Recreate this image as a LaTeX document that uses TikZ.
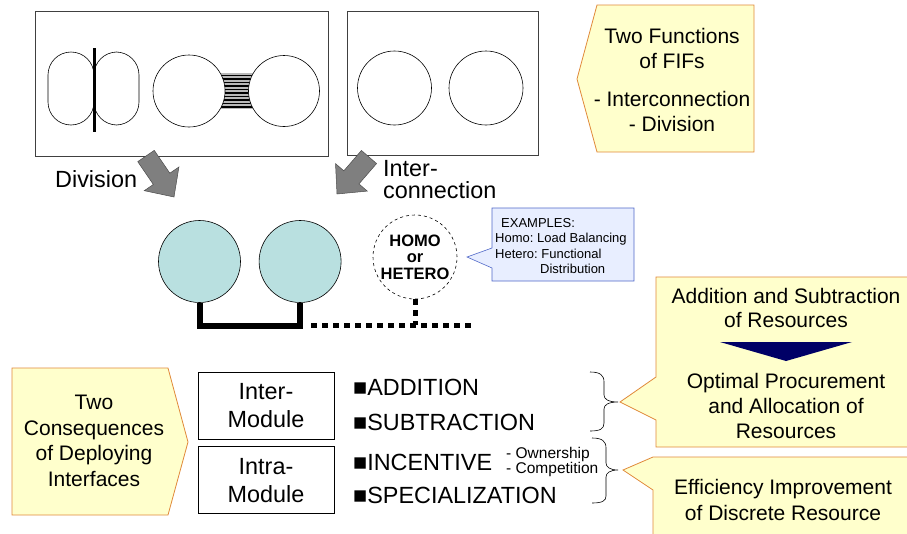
\documentclass[tikz,border=0pt]{standalone}
\usepackage{fontspec}
\setmainfont{Liberation Sans}
\usepackage{xcolor}
\usetikzlibrary{calc,positioning}

\definecolor{noteyellow}{HTML}{FFFFCC}
\definecolor{noteorange}{HTML}{E0893A}
\definecolor{cellteal}{HTML}{B9E0E0}
\definecolor{exblue}{HTML}{E8EEFF}
\definecolor{exborder}{HTML}{5068C8}
\definecolor{navy}{HTML}{000066}
\definecolor{arrowgray}{HTML}{7F7F7F}

% fat block arrow from tail to tip
\newcommand{\blockarrow}[2]{%
  \coordinate (neck) at ($(#2)!22pt!(#1)$);
  \filldraw[fatarrow] ($(#1)!10pt!90:(#2)$) -- ($(neck)!10pt!90:(#2)$) -- ($(neck)!21pt!90:(#2)$)
    -- (#2) -- ($(neck)!21pt!-90:(#2)$) -- ($(neck)!10pt!-90:(#2)$) -- ($(#1)!10pt!-90:(#2)$) -- cycle;}

\begin{document}
\frenchspacing
\begin{tikzpicture}[x=1pt, y=-1pt,
    frame/.style={draw=black!75, line width=0.8pt},
    cell/.style={circle, draw, line width=0.6pt, fill=white, minimum size=#1, inner sep=0pt},
    lobe/.style={draw, line width=0.6pt, rounded corners=23pt},
    unit/.style={circle, draw, line width=0.6pt, fill=cellteal, minimum size=82pt, inner sep=0pt},
    note/.style={draw=noteorange, fill=noteyellow, line width=0.8pt},
    fatarrow/.style={fill=arrowgray, draw=black!70, line width=0.5pt, line join=miter},
    bigtxt/.style={font=\fontsize{23.4}{22}\selectfont, inner sep=0pt},
    notetxt/.style={font=\fontsize{21}{25.5}\selectfont, align=center, inner sep=0pt, anchor=north},
    modbox/.style={draw, line width=0.8pt, minimum width=136pt, minimum height=67pt, align=center, font=\fontsize{23.4}{28}\selectfont, inner sep=0pt},
    bus/.style={line width=6pt},
    dotbus/.style={line width=5pt, dash pattern=on 6pt off 5pt},
    curly/.style={line width=0.6pt}
]
    \useasboundingbox (0,0) rectangle (907,533);

    % the two upper frames
    \draw [frame] (35,11) rectangle (328,156);
    \draw [frame] (347,11) rectangle (538,155);

    % divided cell
    \draw [lobe] (48,52) rectangle (94,125);
    \draw [lobe] (94,52) rectangle (139,125);
    \draw [line width=3pt] (94,48) -- (94,132);

    % cells joined by the hatched neck
    \fill [gray!55] (214,73) rectangle (260,109);
    \foreach \y in {75.5,79,...,107}
        \draw [line width=1.5pt] (214,\y) -- (260,\y);
    \node [cell=72pt] (ja) at (189,91) {};
    \node [cell=71pt] (jb) at (284,91) {};

    % two free cells
    \node [cell=74pt] (fa) at (394.5,88) {};
    \node [cell=74pt] (fb) at (486,88) {};

    % top right note
    \draw [note] (597,5) -- (754,5) -- (754,152) -- (597,152) -- (577,79) -- cycle;
    \node [notetxt] (fifs) at (672,28) {Two Functions\\of FIFs\\[12pt]- Interconnection\\- Division};

    % fat arrows
    \coordinate (divtail) at (146,156);
    \coordinate (divtip) at (174,197);
    \coordinate (contail) at (369,157);
    \coordinate (contip) at (337,194);
    \blockarrow{divtail}{divtip}
    \blockarrow{contail}{contip}
    \node [bigtxt, anchor=base west] (division) at (55,187) {Division};
    \node [bigtxt, anchor=north west, align=left] (intercon) at (383,160) {Inter-\\connection};

    % the modules
    \node [unit] (ua) at (199.5,261.5) {};
    \node [unit, right=18pt of ua] (ub) {};
    \node [circle, draw, dashed, line width=0.6pt, minimum size=84pt, inner sep=0pt, align=center,
           font=\bfseries\fontsize{16.5}{16.5}\selectfont] (homo) at (415,257) {HOMO\\or\\HETERO};
    \coordinate (busstart) at (311,325);
    \coordinate (busend) at (472,325);
    \draw [bus] (ua.south) -- ++(0,23) -| (ub.south);
    \draw [dotbus] (busstart) -- (busend);
    \draw [dotbus] (homo.south) -- (homo.south |- busend);

    % examples note
    \draw [draw=exborder, fill=exblue, line width=0.6pt] (492,208) -- (634,208) -- (634,281) -- (492,281)
        -- (492,268) -- (467,257) -- (492,248) -- cycle;
    \node [anchor=north west, align=left, inner sep=0pt, font=\fontsize{13}{15.5}\selectfont] (examples) at (495,218)
        {\hspace*{6pt}EXAMPLES:\\Homo: Load Balancing\\Hetero: Functional\\\hspace*{45pt}Distribution};

    % lower left note and modules
    \draw [note] (12,368) -- (168,368) -- (188,442) -- (168,515) -- (12,515) -- cycle;
    \node [notetxt] (conseq) at (94,395) {Two\\Consequences\\of Deploying\\Interfaces};
    \node [modbox] (inter) at (266,405.5) {Inter-\\Module};
    \node [modbox, below=7pt of inter] (intra) {Intra-\\Module};

    % list
    \node [bigtxt, anchor=base west] (addition) at (353,395) {■ADDITION};
    \node [bigtxt, anchor=base west] (subtraction) at (353,430) {■SUBTRACTION};
    \node [bigtxt, anchor=base west] (incentive) at (353,470) {■INCENTIVE};
    \node [bigtxt, anchor=base west] (special) at (353,503) {■SPECIALIZATION};
    \node [anchor=north west, align=left, inner sep=0pt, font=\fontsize{15.5}{15}\selectfont] (owner) at (506,447)
        {- Ownership\\- Competition};

    % braces
    \draw [curly] (590,372) .. controls (600,372) and (604,375) .. (604,382) -- (604,395)
        .. controls (604,399) and (608,402) .. (618,402) .. controls (608,402) and (604,405) .. (604,409)
        -- (604,423) .. controls (604,429) and (600,431) .. (590,431);
    \draw [curly] (592,438) .. controls (602,438) and (606,441) .. (606,448) -- (606,463)
        .. controls (606,467) and (610,470) .. (618,470) .. controls (610,470) and (606,473) .. (606,477)
        -- (606,496) .. controls (606,501) and (602,503) .. (592,503);

    % right notes
    \draw [note] (656,277) -- (912,277) -- (912,447) -- (656,447) -- (656,420) -- (620,402) -- (656,377) -- cycle;
    \node [notetxt, font=\fontsize{21}{24.5}\selectfont] (addsub) at (786,288) {Addition and Subtraction\\of Resources};
    \fill [navy] (720,342) -- (852,342) -- (786,361) -- cycle;
    \node [notetxt, font=\fontsize{21}{25}\selectfont] (optimal) at (786,373) {Optimal Procurement\\and Allocation of\\Resources};

    \draw [note] (653,457) -- (912,457) -- (912,540) -- (653,540) -- (653,490) -- (623,470) -- cycle;
    \node [notetxt, font=\fontsize{21}{26}\selectfont] (effic) at (783,479) {Efficiency Improvement\\of Discrete Resource};
\end{tikzpicture}
\end{document}
